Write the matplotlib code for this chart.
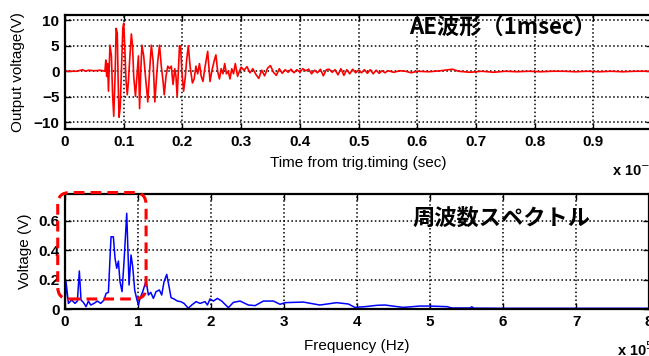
import numpy as np
import matplotlib
matplotlib.use("Agg")
from matplotlib import pyplot as plt
from matplotlib.patches import FancyBboxPatch
from matplotlib.transforms import IdentityTransform

plt.rcParams['font.family'] = ['Liberation Sans', 'Noto Sans CJK JP', 'DejaVu Sans']

# AE waveform, time in ms (axis shows x 10^-3 sec), voltage in V
ae_t = [0.000, 0.020, 0.030, 0.035, 0.040, 0.050, 0.060, 0.068,
        0.0695, 0.071, 0.0725, 0.074, 0.0765, 0.079, 0.081, 0.083, 0.0855, 0.087,
        0.089, 0.0905, 0.092, 0.094, 0.096, 0.0985, 0.100, 0.102, 0.104, 0.106,
        0.108, 0.110, 0.113, 0.115, 0.117, 0.120, 0.123, 0.125, 0.127, 0.129,
        0.131, 0.134, 0.137, 0.141, 0.144, 0.147, 0.150, 0.153, 0.156, 0.158,
        0.161, 0.164, 0.167, 0.169, 0.172, 0.175, 0.178, 0.181, 0.184, 0.187,
        0.189, 0.191, 0.193, 0.195, 0.197, 0.199, 0.202, 0.205, 0.207, 0.210,
        0.213, 0.217, 0.220, 0.223, 0.226, 0.229, 0.232, 0.235, 0.238, 0.241,
        0.243, 0.245, 0.247, 0.250, 0.254, 0.257, 0.260, 0.263, 0.266, 0.269,
        0.272, 0.275, 0.278, 0.281, 0.284, 0.287, 0.290, 0.294, 0.297,
        0.300, 0.305, 0.310, 0.315, 0.320, 0.325, 0.330, 0.335, 0.340, 0.345,
        0.350, 0.355, 0.360, 0.365, 0.370, 0.375, 0.380, 0.385, 0.390, 0.395,
        0.400, 0.405, 0.410, 0.415, 0.420, 0.425, 0.430, 0.435, 0.440, 0.445,
        0.450, 0.455, 0.460, 0.465, 0.470, 0.475, 0.480, 0.485, 0.490, 0.495,
        0.500, 0.505, 0.510, 0.515, 0.520, 0.525, 0.530, 0.535, 0.540, 0.545,
        0.550, 0.560, 0.570, 0.580, 0.590, 0.600, 0.620, 0.640, 0.660, 0.670,
        0.690, 0.710, 0.730, 0.750, 0.770, 0.790, 0.810, 0.830, 0.850, 0.870,
        0.890, 0.910, 0.930, 0.950, 0.970, 1.000]
ae_v = [0.0, 0.0, 0.3, 0.0, 0.2, 0.1, 0.2, 0.0,
        2.2, -1.0, 1.5, -3.9, 5.1, 3.0, -4.5, -8.8, 0.0, 8.4,
        7.5, -2.0, -9.0, -7.0, 0.0, 8.5, 9.4, 4.0, -2.0, -4.6,
        -2.0, 2.0, 7.3, 5.0, -1.0, -4.9, 0.0, 3.0, -7.3, 0.0,
        5.1, 3.0, -1.0, -6.0, 0.0, 5.1, 2.0, -6.0, -1.0, 2.0,
        5.1, 1.0, -2.0, -4.6, -1.0, 1.0, 0.5, 1.0, -2.6, 0.5,
        -1.0, -5.0, 0.0, 5.0, 4.5, 0.0, -3.9, -1.0, 2.0, 5.0,
        1.0, -2.3, -1.5, 1.0, -0.5, 1.5, -1.0, -2.0, 0.5, 2.5,
        3.9, 1.0, -2.0, 0.0, 2.0, 3.2, 0.0, -1.5, 0.5, -0.5,
        1.5, -0.5, 0.0, -1.5, 0.5, -0.5, 1.5, -1.0, 0.0,
        0.8, 0.2, 0.9, -0.3, 0.5, -0.6, -1.4, 0.2, -0.9, 0.6,
        1.1, -0.2, -0.8, 0.5, -0.4, 0.3, -0.2, 0.4, -0.3, 0.3,
        -0.2, 0.5, 0.1, 0.4, -0.5, 0.2, -0.3, 0.4, -0.9, 0.3,
        0.4, -0.2, 0.3, -0.7, 0.5, -0.8, 0.3, -0.5, 0.4, -0.3,
        0.2, -0.3, 0.3, -0.4, 0.3, -0.5, 0.2, -0.4, 0.1, -0.3,
        0.1, -0.2, 0.1, 0.0, -0.3, 0.0, -0.1, 0.1, 0.4, 0.0,
        -0.2, 0.0, -0.2, 0.0, -0.1, 0.0, -0.1, 0.0, 0.0, -0.1,
        0.0, -0.1, 0.0, -0.1, 0.0, 0.0]

# spectrum, frequency in units of 1e5 Hz, voltage in V
sp_f = [0.0, 0.014, 0.046, 0.091, 0.137, 0.169, 0.196, 0.219, 0.251, 0.288,
        0.320, 0.352, 0.397, 0.443, 0.489, 0.534, 0.562, 0.594, 0.630, 0.662,
        0.685, 0.708, 0.731, 0.753, 0.781, 0.808, 0.845, 0.877, 0.904, 0.927,
        0.954, 0.982, 1.005, 1.027, 1.064, 1.110, 1.142, 1.174, 1.210, 1.247,
        1.292, 1.324, 1.356, 1.393, 1.425, 1.452, 1.493, 1.539, 1.584, 1.630,
        1.689, 1.735, 1.795, 1.849, 1.918, 1.950, 1.986, 2.032, 2.087, 2.146,
        2.237, 2.306, 2.397, 2.511, 2.603, 2.717, 2.854, 2.945, 3.014, 3.128,
        3.265, 3.490, 3.720, 3.880, 3.970, 4.110, 4.270, 4.380, 4.630, 4.860,
        5.000, 5.230, 5.300, 5.550, 5.570, 5.600, 6.000, 6.500, 7.000, 7.500, 8.000]
sp_v = [0.0, 0.185, 0.038, 0.061, 0.038, 0.054, 0.258, 0.061, 0.045, 0.016,
        0.054, 0.027, 0.038, 0.054, 0.038, 0.061, 0.106, 0.113, 0.490, 0.490,
        0.343, 0.276, 0.325, 0.185, 0.118, 0.321, 0.649, 0.163, 0.366, 0.287,
        0.129, 0.068, 0.027, 0.072, 0.118, 0.190, 0.095, 0.113, 0.072, 0.118,
        0.129, 0.095, 0.185, 0.235, 0.151, 0.077, 0.068, 0.054, 0.050, 0.038,
        0.005, 0.027, 0.050, 0.038, 0.050, 0.027, 0.068, 0.054, 0.072, 0.054,
        0.009, 0.045, 0.054, 0.027, 0.023, 0.054, 0.054, 0.032, 0.043, 0.045,
        0.047, 0.027, 0.043, 0.034, 0.011, 0.016, 0.025, 0.027, 0.011, 0.020,
        0.020, 0.016, 0.007, 0.007, 0.015, 0.006, 0.005, 0.005, 0.005, 0.005, 0.005]

t_ticks = [0, 0.1, 0.2, 0.3, 0.4, 0.5, 0.6, 0.7, 0.8, 0.9, 1.0]
t_labels = ['0', '0.1', '0.2', '0.3', '0.4', '0.5', '0.6', '0.7', '0.8', '0.9', '1']
v_ticks = [-10, -5, 0, 5, 10]
f_ticks = [0, 1, 2, 3, 4, 5, 6, 7, 8]
s_ticks = [0, 0.2, 0.4, 0.6]
s_labels = ['0', '0.2', '0.4', '0.6']

# region highlighted by the dashed box (spectrum data units)
box_f = (-0.10, 1.11)
box_v = (0.068, 0.79)

fig = plt.figure(figsize=(6.49, 3.56), dpi=100)
ax1 = fig.add_axes([0.1002, 0.6376, 0.9045, 0.3202])
ax2 = fig.add_axes([0.1002, 0.132, 0.900, 0.323])


def style(ax):
    for s in ax.spines.values():
        s.set_linewidth(1.6)
    ax.tick_params(direction='in', length=4, width=1, labelsize=11,
                   top=True, right=True, pad=4)
    ax.grid(True, color='black', linestyle=(0, (1, 1.6)), linewidth=1.1)
    for lab in ax.get_xticklabels() + ax.get_yticklabels():
        lab.set_fontweight('bold')


ax1.plot(ae_t, ae_v, color='#ff0000', lw=1.2)
ax1.set_xlim(0, 1.0)
ax1.set_ylim(-11.3, 11.0)
ax1.set_xticks(t_ticks)
ax1.set_xticklabels(t_labels)
ax1.set_yticks(v_ticks)
style(ax1)
ax1.set_xlabel('Time from trig.timing (sec)', fontsize=11)
ax1.set_ylabel('Output voltage(V)', fontsize=11)
ax1.xaxis.set_label_coords(0.5, -0.235)
ax1.yaxis.set_label_coords(-0.068, 0.5)
ax1.text(0.746, 0.895, 'AE波形（1msec）', transform=ax1.transAxes,
         family=['Noto Sans CJK JP'], fontsize=16, fontweight='bold',
         ha='center', va='center')

ax2.plot(sp_f, sp_v, color='#0000ff', lw=1.1)
ax2.set_xlim(0, 8)
ax2.set_ylim(0, 0.78)
ax2.set_xticks(f_ticks)
ax2.set_yticks(s_ticks)
ax2.set_yticklabels(s_labels)
style(ax2)
ax2.set_xlabel('Frequency (Hz)', fontsize=11)
ax2.set_ylabel('Voltage (V)', fontsize=11)
ax2.xaxis.set_label_coords(0.5, -0.26)
ax2.yaxis.set_label_coords(-0.0565, 0.5)
ax2.text(0.748, 0.79, '周波数スペクトル', transform=ax2.transAxes,
         family=['Noto Sans CJK JP'], fontsize=16, fontweight='bold',
         ha='center', va='center')

fig.text(612 / 649, 1 - 170 / 356, r'x 10$^{-3}$', fontsize=10.5, fontweight='bold',
         va='center')
fig.text(617 / 649, 1 - 350 / 356, r'x 10$^{5}$', fontsize=10.5, fontweight='bold',
         va='center')

# dashed rounded box drawn in pixels so corners stay round
(x0, y0), (x1, y1) = ax2.transData.transform([(box_f[0], box_v[0]), (box_f[1], box_v[1])])
box = FancyBboxPatch((x0, y0), x1 - x0, y1 - y0,
                     boxstyle='round,pad=0,rounding_size=12',
                     transform=IdentityTransform(), fill=False,
                     ec='#ff0000', lw=2.2, ls=(0, (3.5, 2)), clip_on=False)
fig.add_artist(box)

fig.savefig('out.png', dpi=100)
